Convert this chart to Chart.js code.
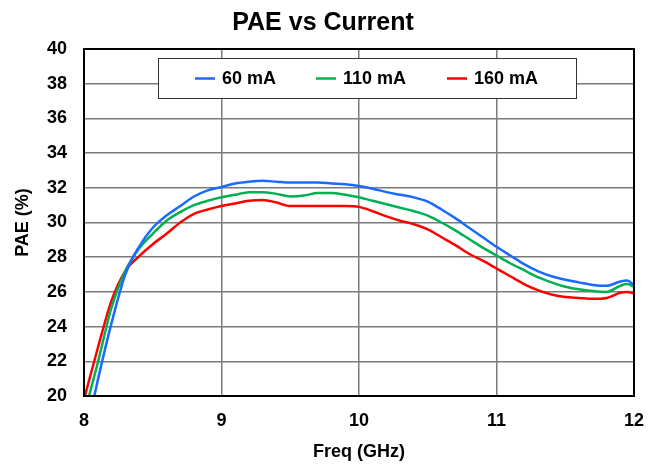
<!DOCTYPE html>
<html lang="en">
<head>
    <meta charset="UTF-8">
    <script src="https://cdn.jsdelivr.net/npm/chart.js"></script>
    <title>PAE vs Current</title>
    <style>
        html, body { margin: 0; padding: 0; background: #fff; }
        #wrap { width: 661px; height: 466px; position: relative; }
    </style>
</head>
<body>
    <div id="wrap">
        <canvas id="paeChart" width="661" height="466"></canvas>
    </div>

    <script>
        // Frequency points (GHz)
        const freqs = [8.0, 8.1, 8.2, 8.3, 8.4, 8.5, 8.6, 8.7, 8.8, 8.9,
                       9.0, 9.1, 9.2, 9.3, 9.4, 9.5, 9.6, 9.7, 9.8, 9.9,
                       10.0, 10.1, 10.2, 10.3, 10.4, 10.5, 10.6, 10.7, 10.8, 10.9,
                       11.0, 11.1, 11.2, 11.3, 11.4, 11.5, 11.6, 11.7, 11.8, 11.9, 11.95, 12.0];

        // PAE (%) per bias current
        const pae60 = [17.3, 20.9, 24.2, 27.0, 28.6, 29.7, 30.4, 30.95, 31.5, 31.85,
                       32.05, 32.25, 32.35, 32.4, 32.35, 32.3, 32.3, 32.3, 32.25, 32.2,
                       32.1, 31.95, 31.75, 31.6, 31.45, 31.2, 30.75, 30.25, 29.7, 29.15,
                       28.6, 28.1, 27.6, 27.2, 26.9, 26.7, 26.55, 26.4, 26.35, 26.6, 26.65, 26.4];
        const pae110 = [18.9, 21.9, 25.1, 27.2, 28.5, 29.35, 30.1, 30.6, 31.0, 31.25,
                        31.45, 31.6, 31.75, 31.75, 31.65, 31.5, 31.55, 31.7, 31.7, 31.6,
                        31.45, 31.25, 31.05, 30.85, 30.65, 30.4, 30.0, 29.55, 29.05, 28.55,
                        28.1, 27.65, 27.25, 26.85, 26.55, 26.3, 26.15, 26.05, 26.0, 26.35, 26.45, 26.3];
        const pae160 = [19.8, 22.75, 25.5, 27.2, 28.05, 28.75, 29.35, 30.0, 30.5, 30.75,
                        30.95, 31.1, 31.25, 31.3, 31.15, 30.95, 30.95, 30.95, 30.95, 30.95,
                        30.9, 30.65, 30.35, 30.1, 29.9, 29.6, 29.15, 28.7, 28.2, 27.8,
                        27.35, 26.9, 26.45, 26.1, 25.85, 25.7, 25.65, 25.6, 25.65, 25.95, 26.0, 25.9];

        const seriesLabels = ['60 mA', '110 mA', '160 mA'];
        const seriesColors = ['#1a6aff', '#00b050', '#ff0000'];
        const xTicks = [8, 9, 10, 11, 12];

        const toPoints = (ys) => freqs.map((f, i) => ({ x: f, y: ys[i] }));

        // Box legend inside the plot + black frame around the plot area
        const boxLegend = {
            id: 'boxLegend',
            afterDatasetsDraw(chart) {
                const ctx = chart.ctx;
                const area = chart.chartArea;
                ctx.save();
                ctx.strokeStyle = '#000';
                ctx.lineWidth = 2;
                ctx.strokeRect(area.left, area.top, area.right - area.left, area.bottom - area.top);

                // legend box
                const bx = 158.5, by = 58.5, bw = 418, bh = 40;
                ctx.fillStyle = '#fff';
                ctx.fillRect(bx, by, bw, bh);
                ctx.lineWidth = 1;
                ctx.strokeStyle = '#333';
                ctx.strokeRect(bx, by, bw, bh);

                const lineX = [195, 316, 447];
                ctx.font = 'bold 18px "Liberation Sans", Arial, sans-serif';
                ctx.textBaseline = 'middle';
                ctx.textAlign = 'left';
                chart.data.datasets.forEach((ds, i) => {
                    ctx.strokeStyle = ds.borderColor;
                    ctx.lineWidth = 2.5;
                    ctx.beginPath();
                    ctx.moveTo(lineX[i], 78.5);
                    ctx.lineTo(lineX[i] + 20, 78.5);
                    ctx.stroke();
                    ctx.fillStyle = '#000';
                    ctx.fillText(ds.label, lineX[i] + 27, 79);
                });
                ctx.restore();
            }
        };

        const family = '"Liberation Sans", Arial, sans-serif';
        const tickFont = { family: family, weight: 'bold', size: 18 };
        const titleFont = { family: family, weight: 'bold', size: 18 };

        new Chart(document.getElementById('paeChart').getContext('2d'), {
            type: 'line',
            data: {
                datasets: [pae60, pae110, pae160].map((ys, i) => ({
                    label: seriesLabels[i],
                    data: toPoints(ys),
                    borderColor: seriesColors[i],
                    backgroundColor: seriesColors[i],
                    borderWidth: 2.5,
                    pointRadius: 0,
                    cubicInterpolationMode: 'monotone',
                    clip: 0
                }))
            },
            options: {
                responsive: false,
                animation: false,
                layout: { padding: { left: 12, right: 27, top: 0, bottom: 3 } },
                plugins: {
                    legend: { display: false },
                    tooltip: { enabled: false },
                    title: {
                        display: true,
                        text: 'PAE vs Current',
                        color: '#000',
                        font: { family: family, weight: 'bold', size: 25 },
                        padding: { top: 8, bottom: 11 }
                    }
                },
                scales: {
                    x: {
                        type: 'linear',
                        min: 8,
                        max: 12,
                        afterBuildTicks: (axis) => { axis.ticks = xTicks.map(v => ({ value: v })); },
                        afterFit: (axis) => { axis.height = 67; },
                        ticks: { color: '#000', font: tickFont, padding: 14 },
                        grid: { color: '#7a7a7a', lineWidth: 1.5, drawTicks: false },
                        border: { color: '#000', width: 2 },
                        title: {
                            display: true,
                            text: 'Freq (GHz)',
                            color: '#000',
                            font: titleFont,
                            padding: { top: 0, bottom: 0 }
                        }
                    },
                    y: {
                        min: 20,
                        max: 40,
                        afterFit: (axis) => { axis.width = 72; },
                        ticks: { stepSize: 2, color: '#000', font: tickFont, padding: 17 },
                        grid: { color: '#7a7a7a', lineWidth: 1.5, drawTicks: false },
                        border: { color: '#000', width: 2 },
                        title: {
                            display: true,
                            text: 'PAE (%)',
                            color: '#000',
                            font: titleFont,
                            padding: { top: 0, bottom: 0 }
                        }
                    }
                }
            },
            plugins: [boxLegend]
        });
    </script>
</body>
</html>
